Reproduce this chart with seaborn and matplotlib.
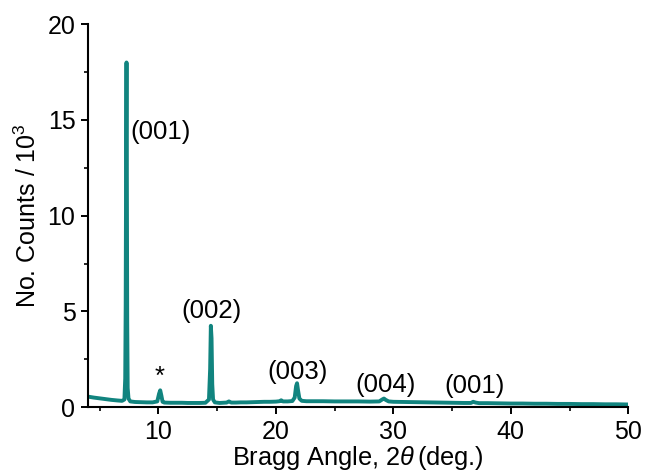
import pandas as pd
import seaborn as sns
import matplotlib.pyplot as plt

# XRD pattern (counts in units of 10^3)
two_theta = [4.0, 4.5, 5.0, 5.5, 6.0, 6.5, 6.9, 7.1, 7.17, 7.21, 7.25, 7.28, 7.31, 7.34, 7.38, 7.45, 7.6,
             8.0, 8.5, 9.0, 9.5, 9.9, 10.05, 10.15, 10.25, 10.35, 10.5, 11.0, 11.5, 12.0, 12.5, 13.0, 13.5,
             14.0, 14.3, 14.4, 14.46, 14.52, 14.58, 14.65, 14.8, 15.2, 15.8, 16.0, 16.2, 16.6, 17.0, 17.5,
             18.0, 18.5, 19.0, 19.5, 20.0, 20.3, 20.45, 20.6, 21.0, 21.4, 21.6, 21.72, 21.8, 21.88, 22.0,
             22.2, 22.6, 23.0, 24.0, 25.0, 26.0, 27.0, 28.0, 28.8, 29.05, 29.2, 29.35, 29.6, 30.0, 31.0,
             32.0, 33.0, 34.0, 35.0, 36.0, 36.6, 36.8, 37.0, 37.3, 38.0, 39.0, 40.0, 41.0, 42.0, 43.0,
             44.0, 45.0, 46.0, 47.0, 48.0, 49.0, 50.0]
counts = [0.55, 0.50, 0.46, 0.42, 0.38, 0.35, 0.33, 0.40, 1.5, 5.3, 14.0, 18.0, 12.0, 4.5, 1.0, 0.45, 0.30,
          0.27, 0.26, 0.25, 0.25, 0.30, 0.70, 0.88, 0.60, 0.28, 0.24, 0.23, 0.23, 0.23, 0.22, 0.22, 0.22,
          0.23, 0.40, 2.0, 4.25, 3.6, 1.2, 0.40, 0.25, 0.22, 0.24, 0.30, 0.24, 0.24, 0.25, 0.25,
          0.26, 0.27, 0.28, 0.28, 0.29, 0.31, 0.36, 0.30, 0.30, 0.32, 0.50, 1.10, 1.25, 0.90, 0.45,
          0.33, 0.31, 0.31, 0.31, 0.30, 0.30, 0.30, 0.29, 0.30, 0.40, 0.45, 0.38, 0.30, 0.28, 0.27,
          0.26, 0.25, 0.24, 0.23, 0.22, 0.22, 0.28, 0.24, 0.21, 0.21, 0.20, 0.19, 0.19, 0.18, 0.18,
          0.17, 0.17, 0.16, 0.16, 0.15, 0.15, 0.14]

labels = ["(001)", "(002)", "*", "(003)", "(004)", "(001)"]
label_x = [7.6, 14.55, 10.1, 21.85, 29.3, 36.9]
label_y = [14.35, 5.0, 1.6, 1.85, 1.15, 1.1]
label_ha = ["left", "center", "center", "center", "center", "center"]

df = pd.DataFrame({"two_theta": two_theta, "counts": counts})

sns.set_style("ticks")
plt.rcParams["font.family"] = ["Liberation Sans", "DejaVu Sans"]
plt.rcParams["mathtext.fontset"] = "custom"
plt.rcParams["mathtext.rm"] = "Liberation Sans"
plt.rcParams["mathtext.it"] = "Liberation Sans:italic"
plt.rcParams["text.color"] = "black"
plt.rcParams["axes.labelcolor"] = "black"
plt.rcParams["xtick.color"] = "black"
plt.rcParams["ytick.color"] = "black"

fig = plt.figure(figsize=(6.47, 4.74), dpi=100)
ax = fig.add_axes([0.136, 0.141, 0.835, 0.808])

sns.lineplot(data=df, x="two_theta", y="counts", color="#11847f", linewidth=2.8, ax=ax)

for t, x, y, ha in zip(labels, label_x, label_y, label_ha):
    ax.text(x, y, t, ha=ha, va="center", fontsize=18.5)

ax.set_xlim(4, 50)
ax.set_ylim(0, 20)
ax.set_xticks([10, 20, 30, 40, 50])
ax.set_xticks([5, 15, 25, 35, 45], minor=True)
ax.set_yticks([0, 5, 10, 15, 20])
ax.set_yticks([2.5, 7.5, 12.5, 17.5], minor=True)
ax.tick_params(which="major", direction="out", length=5, width=1.4, labelsize=18, pad=4)
ax.tick_params(which="minor", direction="out", length=3, width=1.2)
for s in ["left", "bottom"]:
    ax.spines[s].set_linewidth(1.5)
    ax.spines[s].set_color("black")
sns.despine(ax=ax)

ax.set_xlabel(r"Bragg Angle, 2$\it{\theta}\,$(deg.)", fontsize=18.3, labelpad=0)
ax.set_ylabel(r"No. Counts / 10$^3$", fontsize=18, labelpad=5)

fig.savefig("out.png", dpi=100)
